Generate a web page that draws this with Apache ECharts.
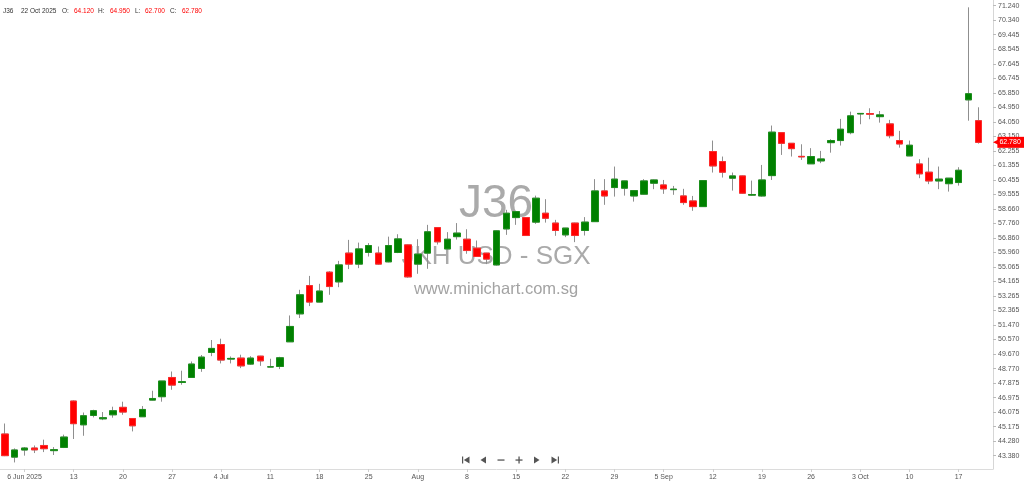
<!DOCTYPE html>
<html>
<head>
<meta charset="utf-8">
<script src="https://cdn.jsdelivr.net/npm/echarts@6/dist/echarts.min.js"></script>
<style>
html,body{margin:0;padding:0;background:#fff;}
#chart{width:1024px;height:484px;}
</style>
</head>
<body>
<div id="chart"></div>
<script>
// ---- data ----
const dates = [
'2025-06-04','2025-06-05','2025-06-06','2025-06-09','2025-06-10','2025-06-11','2025-06-12','2025-06-13',
'2025-06-16','2025-06-17','2025-06-18','2025-06-19','2025-06-20','2025-06-23','2025-06-24','2025-06-25',
'2025-06-26','2025-06-27','2025-06-30','2025-07-01','2025-07-02','2025-07-03','2025-07-04','2025-07-07',
'2025-07-08','2025-07-09','2025-07-10','2025-07-11','2025-07-14','2025-07-15','2025-07-16','2025-07-17',
'2025-07-18','2025-07-21','2025-07-22','2025-07-23','2025-07-24','2025-07-25','2025-07-28','2025-07-29',
'2025-07-30','2025-07-31','2025-08-01','2025-08-04','2025-08-05','2025-08-06','2025-08-07','2025-08-08',
'2025-08-11','2025-08-12','2025-08-13','2025-08-14','2025-08-15','2025-08-18','2025-08-19','2025-08-20',
'2025-08-21','2025-08-22','2025-08-25','2025-08-26','2025-08-27','2025-08-28','2025-08-29','2025-09-01',
'2025-09-02','2025-09-03','2025-09-04','2025-09-05','2025-09-08','2025-09-09','2025-09-10','2025-09-11',
'2025-09-12','2025-09-15','2025-09-16','2025-09-17','2025-09-18','2025-09-19','2025-09-22','2025-09-23',
'2025-09-24','2025-09-25','2025-09-26','2025-09-29','2025-09-30','2025-10-01','2025-10-02','2025-10-03',
'2025-10-06','2025-10-07','2025-10-08','2025-10-09','2025-10-10','2025-10-13','2025-10-14','2025-10-15',
'2025-10-16','2025-10-17','2025-10-21','2025-10-22',''
];
const opens = [44.72,43.29,43.73,43.85,44.01,43.69,43.89,46.76,45.29,45.87,45.66,45.91,46.37,45.68,45.79,46.82,
47.03,48.22,47.91,48.22,48.78,49.77,50.26,49.36,49.42,49.05,49.54,48.87,48.90,50.43,52.16,53.91,
52.89,54.74,54.14,55.92,55.24,55.96,55.92,55.38,55.96,56.43,55.24,55.92,57.50,56.18,56.94,56.78,
56.23,55.92,55.19,57.42,58.12,58.12,57.84,58.39,57.78,57.05,57.78,57.32,57.87,59.77,59.98,59.94,
59.46,59.57,60.25,60.14,59.85,59.46,59.15,58.80,62.21,61.59,60.56,60.70,59.51,59.46,60.72,63.38,
62.72,61.91,61.45,61.63,62.76,62.89,63.38,64.54,64.56,64.37,63.92,62.89,61.94,61.44,60.93,60.39,
60.22,60.29,65.41,64.12];
const closes = [43.38,43.73,43.85,43.74,43.81,43.75,44.53,45.36,45.85,46.16,45.73,46.16,46.08,45.23,46.24,46.92,
48.00,47.75,47.96,49.05,49.48,50.02,49.30,49.40,48.94,49.42,49.25,48.88,49.44,51.38,53.34,52.89,
53.57,53.85,55.19,55.24,56.18,56.39,55.24,56.39,56.80,54.45,55.86,57.24,56.62,56.78,57.16,56.08,
55.71,55.55,57.30,58.39,58.49,57.01,59.32,58.08,57.32,57.47,57.01,57.84,59.77,59.46,60.50,60.39,
59.79,60.39,60.45,59.90,59.88,59.05,58.80,60.41,61.32,60.93,60.70,59.63,59.55,60.45,63.41,62.72,
62.39,61.88,61.90,61.75,62.89,63.59,64.42,64.57,64.52,64.48,63.19,62.68,62.60,60.83,60.39,60.50,
60.56,61.05,65.79,62.78];
const lows = [43.35,42.96,43.38,43.54,43.60,43.42,43.85,44.41,44.61,45.75,45.58,45.73,45.91,44.88,45.78,46.80,
46.72,47.46,47.77,48.20,48.57,49.54,49.09,49.09,48.80,49.00,48.94,48.85,48.74,50.42,51.90,52.64,
52.88,53.34,53.81,54.93,54.99,55.71,55.20,55.35,55.92,54.40,54.64,54.95,56.45,56.15,56.76,55.88,
55.70,55.24,55.15,57.05,57.67,57.00,57.73,57.81,56.99,56.91,56.60,57.01,57.85,58.91,59.42,59.48,
59.11,59.55,59.88,59.59,59.53,58.91,58.54,58.78,60.91,60.60,59.79,59.60,59.46,59.42,60.45,62.00,
61.90,61.69,61.44,61.49,62.14,62.58,63.28,63.90,64.21,64.00,63.03,62.45,61.93,60.56,60.19,59.88,
59.73,60.10,64.12,62.70];
const highs = [45.37,43.83,43.91,44.01,44.37,43.91,44.68,46.80,46.05,46.22,46.08,46.41,46.72,45.70,46.45,47.40,
48.00,48.59,48.64,49.21,49.61,50.54,50.62,49.52,49.63,49.54,49.56,49.38,49.50,52.06,53.65,54.51,
54.02,54.80,55.44,56.74,56.57,56.54,56.33,56.94,57.09,56.45,56.78,57.67,57.52,57.22,57.78,57.40,
56.70,55.93,57.32,58.60,58.50,58.13,59.48,59.26,57.98,57.48,57.80,58.15,60.50,60.50,61.28,60.40,
59.80,60.50,60.47,60.45,60.08,59.90,59.46,60.42,62.89,61.90,60.91,60.72,60.41,61.38,63.82,63.40,
62.73,62.66,62.42,62.25,62.97,64.23,64.68,64.58,64.89,64.72,64.17,63.49,62.89,61.74,61.83,61.28,
60.57,61.24,71.14,64.95];
const xTickDates = ['2025-06-06','2025-06-13','2025-06-20','2025-06-27','2025-07-04','2025-07-11','2025-07-18',
'2025-07-25','2025-08-01','2025-08-08','2025-08-15','2025-08-22','2025-08-29','2025-09-05','2025-09-12',
'2025-09-19','2025-09-26','2025-10-03','2025-10-10','2025-10-17'];
const xTickLabels = ['6 Jun 2025','13','20','27','4 Jul','11','18','25','Aug','8','15','22','29','5 Sep','12',
'19','26','3 Oct','10','17'];
const yTickLabels = ['43.380','44.280','45.175','46.075','46.975','47.875','48.770','49.670','50.570','51.470',
'52.365','53.265','54.165','55.065','55.960','56.860','57.760','58.660','59.555','60.455','61.355','62.255',
'63.150','64.050','64.950','65.850','66.745','67.645','68.545','69.445','70.340','71.240'];
const symbolName = 'J36';
const lastDateLabel = '22 Oct 2025';

// ---- build ----
const n = opens.length;
const wickData = [], bodyData = [];
for (let i = 0; i < n; i++) {
  wickData.push([opens[i], closes[i], lows[i], highs[i]]);
  bodyData.push([opens[i], closes[i], Math.min(opens[i], closes[i]), Math.max(opens[i], closes[i])]);
}
const yTickValues = yTickLabels.map(Number);
const tickMap = {};
xTickDates.forEach((d, k) => { tickMap[d] = xTickLabels[k]; });
const isTick = (idx, val) => tickMap[val] !== undefined;
const last = n - 1;
const FONT = '"Liberation Sans", Arial, sans-serif';

function txt(text, x, y, size, fill, align, extra) {
  return Object.assign({
    type: 'text', x: x, y: y, z: 100, silent: true,
    style: { text: text, fill: fill, fontSize: size, fontFamily: FONT,
             textAlign: align || 'left', align: align || 'left',
             textVerticalAlign: 'middle', verticalAlign: 'middle' }
  }, extra || {});
}

const header = [
  txt(symbolName, 3, 11, 6.5, '#333'),
  txt(lastDateLabel, 21, 11, 6.5, '#333'),
  txt('O:', 62, 11, 6.5, '#333'),
  txt(opens[last].toFixed(3), 74, 11, 6.5, '#ff0000'),
  txt('H:', 98, 11, 6.5, '#333'),
  txt(highs[last].toFixed(3), 110, 11, 6.5, '#ff0000'),
  txt('L:', 135, 11, 6.5, '#333'),
  txt(lows[last].toFixed(3), 145, 11, 6.5, '#ff0000'),
  txt('C:', 170, 11, 6.5, '#333'),
  txt(closes[last].toFixed(3), 182, 11, 6.5, '#ff0000')
];

const wm = [
  txt(symbolName, 496, 204, 46, '#aaaaaa', 'center', { z: 0 }),
  txt('JKH USD - SGX', 496, 257, 26, '#aaaaaa', 'center', { z: 0 }),
  txt('www.minichart.com.sg', 496, 289, 16.5, '#a3a3a3', 'center', { z: 0 })
];

const navColor = '#555';
const nav = [
  { type: 'rect', shape: { x: 462, y: 456.5, width: 1.2, height: 7 }, style: { fill: navColor }, silent: true },
  { type: 'polygon', shape: { points: [[463.8, 460], [469.5, 456.5], [469.5, 463.5]] }, style: { fill: navColor }, silent: true },
  { type: 'polygon', shape: { points: [[480.5, 460], [486, 456.5], [486, 463.5]] }, style: { fill: navColor }, silent: true },
  { type: 'rect', shape: { x: 497.5, y: 459.4, width: 7, height: 1.3 }, style: { fill: navColor }, silent: true },
  { type: 'rect', shape: { x: 515.5, y: 459.4, width: 7, height: 1.3 }, style: { fill: navColor }, silent: true },
  { type: 'rect', shape: { x: 518.4, y: 456.5, width: 1.3, height: 7 }, style: { fill: navColor }, silent: true },
  { type: 'polygon', shape: { points: [[539.5, 460], [534, 456.5], [534, 463.5]] }, style: { fill: navColor }, silent: true },
  { type: 'polygon', shape: { points: [[557.2, 460], [551.5, 456.5], [551.5, 463.5]] }, style: { fill: navColor }, silent: true },
  { type: 'rect', shape: { x: 557.8, y: 456.5, width: 1.2, height: 7 }, style: { fill: navColor }, silent: true }
];

const chart = echarts.init(document.getElementById('chart'), null, { renderer: 'canvas' });
chart.setOption({
  animation: false,
  backgroundColor: '#ffffff',
  grid: { left: 0, right: 31, top: 0, bottom: 15, containLabel: false },
  xAxis: {
    type: 'category',
    data: dates,
    boundaryGap: true,
    axisLine: { show: true, lineStyle: { color: '#dcdcdc', width: 1 } },
    axisTick: { show: true, interval: isTick, alignWithLabel: true, length: 3, lineStyle: { color: '#cfcfcf' } },
    axisLabel: {
      show: true, interval: isTick, margin: 5,
      formatter: v => tickMap[v] || '',
      color: '#555', fontSize: 7, fontFamily: FONT
    },
    splitLine: { show: false }
  },
  yAxis: {
    type: 'value',
    position: 'right',
    min: 42.553,
    max: 71.593,
    scale: true,
    axisLine: { show: true, lineStyle: { color: '#d6d6d6', width: 1 } },
    axisTick: { show: true, customValues: yTickValues, length: 3, inside: false, lineStyle: { color: '#bbb' } },
    axisLabel: {
      show: true, customValues: yTickValues, margin: 5,
      formatter: v => Number(v).toFixed(3),
      color: '#555', fontSize: 7, fontFamily: FONT
    },
    splitLine: { show: false }
  },
  graphic: { elements: wm.concat(header, nav) },
  series: [
    {
      name: 'wick', type: 'candlestick', data: wickData, barWidth: 7, z: 3,
      itemStyle: { color: 'rgba(0,0,0,0)', color0: 'rgba(0,0,0,0)', borderColor: '#8f8f8f', borderColor0: '#8f8f8f', borderWidth: 1 },
      emphasis: { disabled: true }
    },
    {
      name: 'body', type: 'candlestick', data: bodyData, barWidth: 7, z: 4,
      itemStyle: { color: '#008000', color0: '#ff0000', borderColor: '#1a8f1a', borderColor0: '#ff2a2a', borderWidth: 1 },
      emphasis: { disabled: true },
      markLine: {
        silent: true,
        z: 10,
        symbol: ['none', 'none'],
        data: [{ yAxis: closes[last] }],
        lineStyle: { color: 'rgba(255,0,0,0)', width: 1, type: 'solid' },
        label: {
          show: true, position: 'end', distance: 0,
          formatter: () => '{a|◀}{b|' + closes[last].toFixed(3) + '}',
          rich: {
            a: { color: '#ff0000', fontSize: 7, fontFamily: '"DejaVu Sans"', padding: [0, -1, 0, 0], lineHeight: 11 },
            b: { color: '#ffffff', backgroundColor: '#ff0000', fontSize: 7, fontFamily: FONT, padding: [2, 6, 2, 2], lineHeight: 11 }
          }
        }
      }
    }
  ]
});
</script>
</body>
</html>
